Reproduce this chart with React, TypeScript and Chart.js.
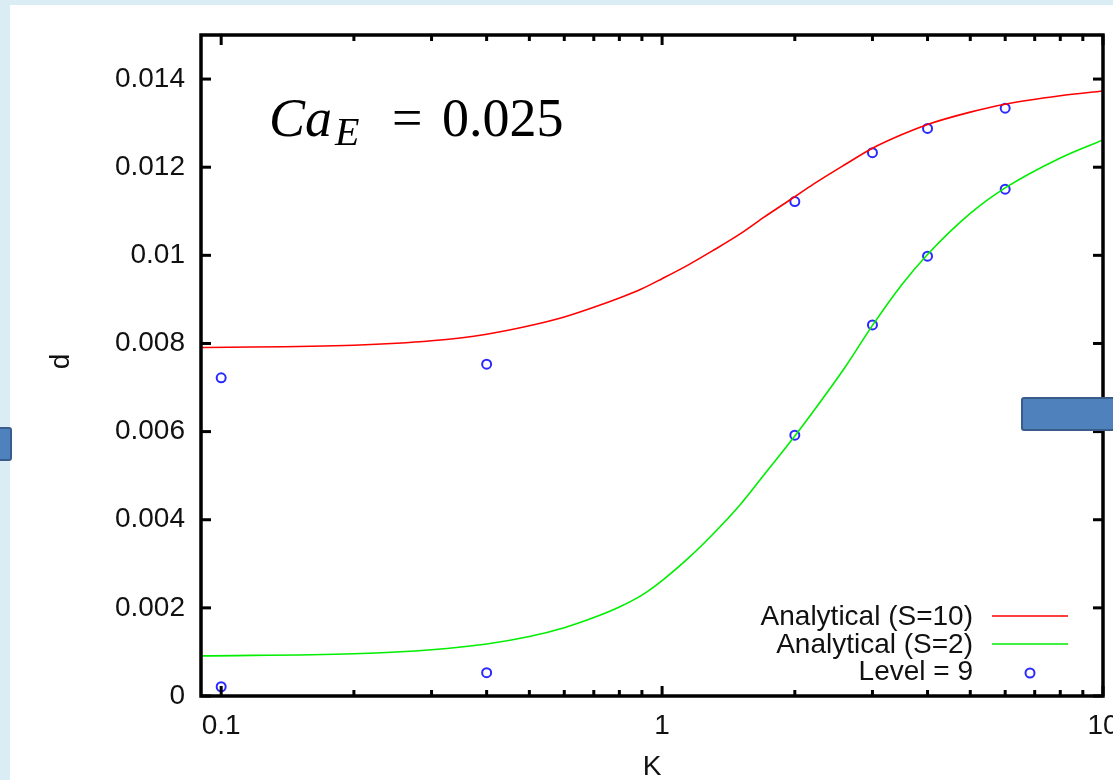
import { useEffect, useRef } from "react";
import { Chart, registerables } from "chart.js";

Chart.register(...registerables);

// ---- data ----
const redK = [0.09, 0.2, 0.3, 0.4, 0.5, 0.6, 0.7, 0.8, 0.9, 1.0, 1.15, 1.3, 1.5, 1.7, 2.0, 2.2, 2.6, 3, 3.5, 4, 5, 6, 8, 10];
const redD = [0.00791, 0.00796, 0.00806, 0.00821, 0.0084, 0.0086, 0.00882, 0.00903, 0.00924, 0.00947, 0.00979, 0.0101, 0.01048, 0.01086, 0.01133, 0.01161, 0.01206, 0.01243, 0.01274, 0.01297, 0.01325, 0.01343, 0.01362, 0.01373];

const greenK = [0.09, 0.2, 0.3, 0.4, 0.5, 0.6, 0.7, 0.8, 0.9, 1.0, 1.15, 1.3, 1.5, 1.7, 2.0, 2.2, 2.6, 3, 3.5, 4, 5, 6, 8, 10];
const greenD = [0.00091, 0.00096, 0.00105, 0.00118, 0.00135, 0.00155, 0.00178, 0.00202, 0.00229, 0.00262, 0.00314, 0.00366, 0.00433, 0.00501, 0.0059, 0.00645, 0.00746, 0.00841, 0.00934, 0.01002, 0.01095, 0.01153, 0.01221, 0.01262];

const levelK = [0.1, 0.1, 0.4, 0.4, 2, 2, 3, 3, 4, 4, 6, 6];
const levelD = [0.00722, 0.00021, 0.00753, 0.00053, 0.01122, 0.00592, 0.01233, 0.00842, 0.01288, 0.00998, 0.01334, 0.0115];

const yTicks = [0, 0.002, 0.004, 0.006, 0.008, 0.01, 0.012, 0.014];
const yTickLabels = ["0", "0.002", "0.004", "0.006", "0.008", "0.01", "0.012", "0.014"];
const xMajor = [0.1, 1, 10];
const xTickLabels = ["0.1", "1", "10"];
const xMinor = [0.2, 0.3, 0.4, 0.5, 0.6, 0.7, 0.8, 0.9, 2, 3, 4, 5, 6, 7, 8, 9];

const seriesLabels = ["Analytical (S=10)", "Analytical (S=2)", "Level = 9"];
const xTitle = "K";
const yTitle = "d";

const SANS = '"Liberation Sans", Arial, sans-serif';
const SERIF = '"Liberation Serif", "Times New Roman", serif';

const toPts = (xs: number[], ys: number[]) => xs.map((x, i) => ({ x, y: ys[i] }));

const framePlugin = {
  id: "gnuframe",
  afterDatasetsDraw(chart: any) {
    const { ctx, chartArea: a, scales } = chart;
    const xs = scales.x;
    const ys = scales.y;
    ctx.save();
    ctx.strokeStyle = "#000";
    ctx.lineCap = "butt";
    ctx.lineWidth = 3;
    const seg = (x1: number, y1: number, x2: number, y2: number) => {
      ctx.beginPath();
      ctx.moveTo(x1, y1);
      ctx.lineTo(x2, y2);
      ctx.stroke();
    };
    for (const v of yTicks) {
      const py = ys.getPixelForValue(v);
      seg(a.left, py, a.left + 10, py);
      seg(a.right, py, a.right - 10, py);
    }
    for (const v of xMajor) {
      const px = xs.getPixelForValue(v);
      seg(px, a.bottom, px, a.bottom - 10);
      seg(px, a.top, px, a.top + 10);
    }
    for (const v of xMinor) {
      const px = xs.getPixelForValue(v);
      seg(px, a.bottom, px, a.bottom - 6);
      seg(px, a.top, px, a.top + 6);
    }
    ctx.lineWidth = 3.5;
    ctx.strokeRect(a.left, a.top, a.right - a.left, a.bottom - a.top);

    // legend (gnuplot style, bottom right inside)
    const ds = chart.data.datasets;
    ctx.font = `28px ${SANS}`;
    ctx.fillStyle = "#111";
    ctx.textAlign = "right";
    ctx.textBaseline = "alphabetic";
    const baselines = [a.bottom - 71, a.bottom - 43, a.bottom - 16];
    ds.forEach((d: any, i: number) => {
      const by = baselines[i];
      ctx.fillText(seriesLabels[i], a.right - 130, by);
      if (d.showLine) {
        ctx.strokeStyle = d.borderColor;
        ctx.lineWidth = 1.6;
        seg(a.right - 111, by - 9, a.right - 35, by - 9);
      } else {
        ctx.strokeStyle = d.borderColor;
        ctx.lineWidth = 2;
        ctx.beginPath();
        ctx.arc(a.right - 73, by - 7, 4.5, 0, Math.PI * 2);
        ctx.stroke();
      }
    });

    // axis titles
    ctx.fillStyle = "#111";
    ctx.textAlign = "center";
    ctx.fillText(xTitle, (a.left + a.right) / 2, 775);
    ctx.save();
    ctx.translate(69, (a.top + a.bottom) / 2 - 4);
    ctx.rotate(-Math.PI / 2);
    ctx.textAlign = "center";
    ctx.fillText(yTitle, 0, 0);
    ctx.restore();

    // annotation Ca_E = 0.025
    ctx.fillStyle = "#000";
    ctx.textAlign = "left";
    const base = 136;
    ctx.font = `italic 54px ${SERIF}`;
    ctx.fillText("Ca", 269, base);
    ctx.font = `italic 40px ${SERIF}`;
    ctx.fillText("E", 335, base + 9);
    ctx.font = `54px ${SERIF}`;
    ctx.fillText("=", 392, base);
    ctx.fillText("0.025", 442, base);
    ctx.restore();
  },
};

export default function App() {
  const ref = useRef<HTMLCanvasElement | null>(null);
  useEffect(() => {
    if (!ref.current) return;
    const chart = new Chart(ref.current, {
      type: "scatter",
      data: {
        datasets: [
          {
            label: seriesLabels[0],
            data: toPts(redK, redD),
            showLine: true,
            borderColor: "#ff0000",
            borderWidth: 1.6,
            pointRadius: 0,
            cubicInterpolationMode: "monotone",
          } as any,
          {
            label: seriesLabels[1],
            data: toPts(greenK, greenD),
            showLine: true,
            borderColor: "#00ee00",
            borderWidth: 1.6,
            pointRadius: 0,
            cubicInterpolationMode: "monotone",
          } as any,
          {
            label: seriesLabels[2],
            data: toPts(levelK, levelD),
            showLine: false,
            borderColor: "#2a2aff",
            backgroundColor: "rgba(0,0,0,0)",
            borderWidth: 2,
            pointRadius: 4.5,
            pointStyle: "circle",
          } as any,
        ],
      },
      options: {
        animation: false,
        responsive: false,
        devicePixelRatio: 1,
        layout: { padding: { left: 0, top: 35, right: 10, bottom: 0 } },
        plugins: { legend: { display: false }, tooltip: { enabled: false } },
        scales: {
          x: {
            type: "logarithmic",
            min: 0.09,
            max: 10,
            afterBuildTicks: (s: any) => {
              s.ticks = xMajor.map((v) => ({ value: v }));
            },
            afterFit: (s: any) => {
              s.height = 84;
              s.paddingLeft = 0;
              s.paddingRight = 0;
            },
            ticks: {
              autoSkip: false,
              maxRotation: 0,
              padding: 13,
              color: "#111",
              font: { family: SANS, size: 28 },
              callback: (v: any) => {
                const i = xMajor.findIndex((m) => Math.abs(m - Number(v)) < 1e-9);
                return i >= 0 ? xTickLabels[i] : "";
              },
            },
            grid: { display: false, drawTicks: false, tickLength: 0 },
            border: { display: false },
          },
          y: {
            type: "linear",
            min: 0,
            max: 0.015,
            afterBuildTicks: (s: any) => {
              s.ticks = yTicks.map((v) => ({ value: v }));
            },
            afterFit: (s: any) => {
              s.width = 201;
              s.paddingTop = 0;
              s.paddingBottom = 0;
            },
            ticks: {
              padding: 16,
              color: "#111",
              font: { family: SANS, size: 28 },
              callback: (_v: any, i: number) => yTickLabels[i],
            },
            grid: { display: false, drawTicks: false, tickLength: 0 },
            border: { display: false },
          },
        },
      },
      plugins: [framePlugin],
    });
    return () => chart.destroy();
  }, []);

  return (
    <div
      style={{
        position: "fixed",
        left: 0,
        top: 0,
        width: 1113,
        height: 780,
        overflow: "hidden",
        background: "#dbedf4",
      }}
    >
      <div style={{ position: "absolute", left: 10, top: 5, right: 0, bottom: 0, background: "#ffffff" }} />
      <canvas ref={ref} width={1113} height={780} style={{ position: "absolute", left: 0, top: 0, width: 1113, height: 780 }} />
      <div
        style={{
          position: "absolute",
          left: -6,
          top: 427,
          width: 14,
          height: 30,
          background: "#4f81bd",
          border: "2.5px solid #385d8a",
          borderRadius: 3,
        }}
      />
      <div
        style={{
          position: "absolute",
          left: 1021,
          top: 397,
          width: 110,
          height: 30,
          background: "#4f81bd",
          border: "2.5px solid #385d8a",
          borderRadius: 3,
        }}
      />
    </div>
  );
}
